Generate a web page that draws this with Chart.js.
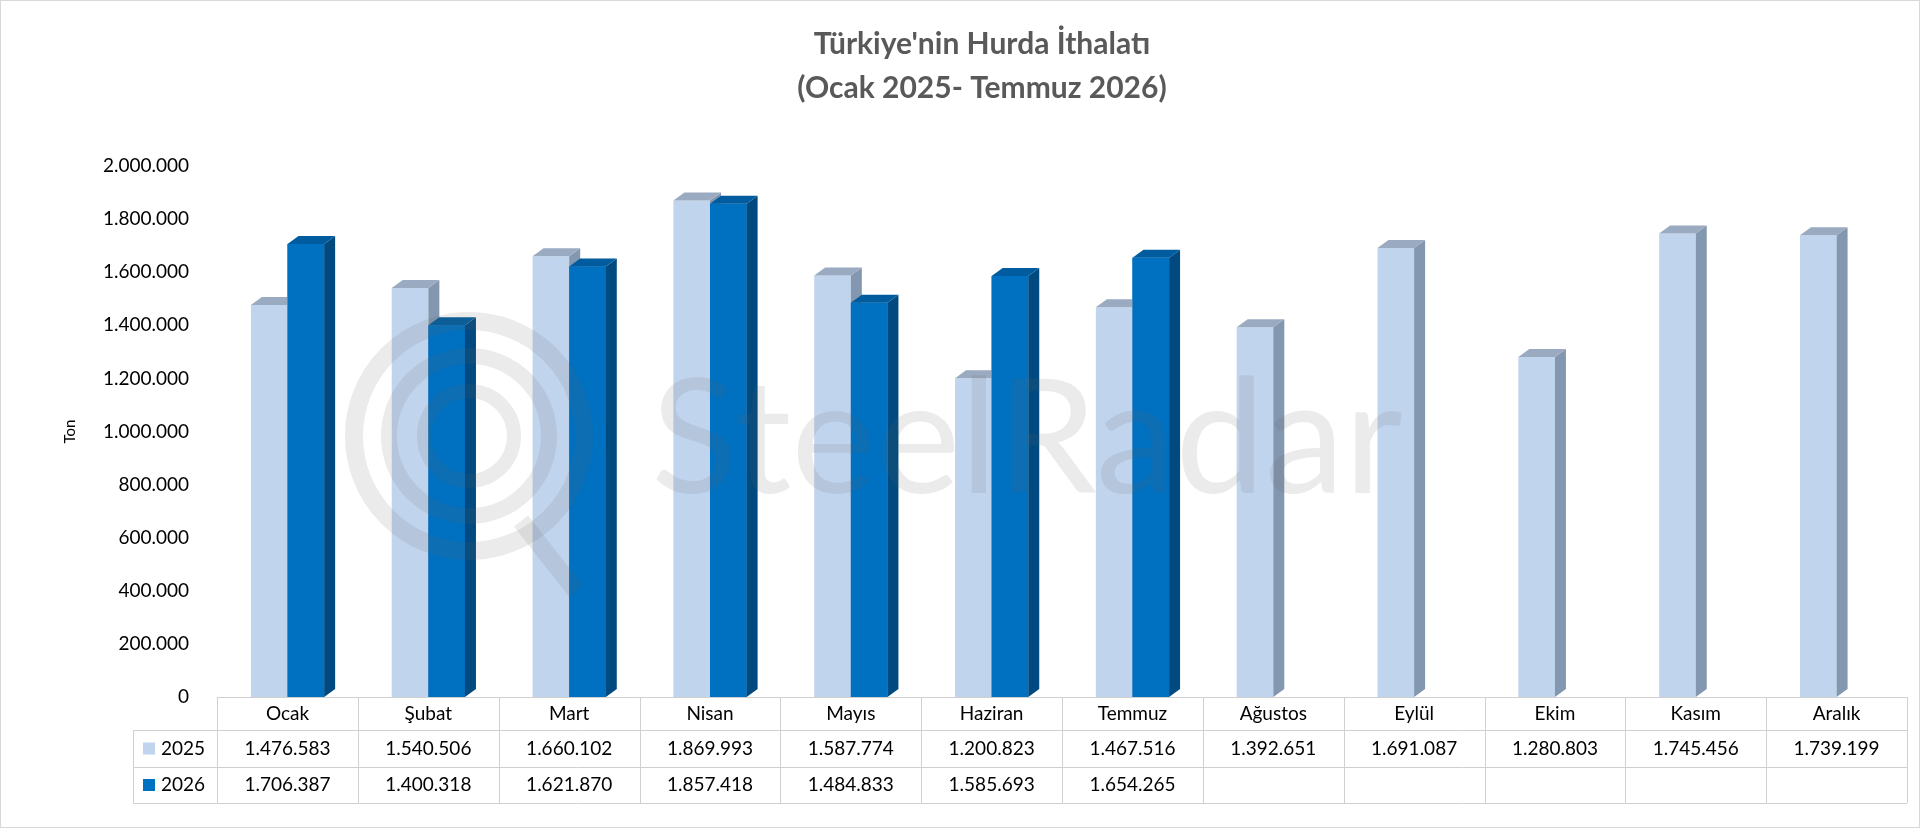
<!DOCTYPE html>
<html><head><meta charset="utf-8">
<script src="https://cdn.jsdelivr.net/npm/chart.js@4"></script>
<style>
html,body{margin:0;background:#fff;}
#wrap{width:1918px;height:826px;border:1px solid #d9d9d9;}
</style></head>
<body><div id="wrap"><canvas id="c" width="1918" height="826"></canvas></div>
<script>
const months = ["Ocak","Şubat","Mart","Nisan","Mayıs","Haziran","Temmuz","Ağustos","Eylül","Ekim","Kasım","Aralık"];
const y2025 = [1476583,1540506,1660102,1869993,1587774,1200823,1467516,1392651,1691087,1280803,1745456,1739199];
const y2026 = [1706387,1400318,1621870,1857418,1484833,1585693,1654265,null,null,null,null,null];
const seriesNames = ["2025","2026"];

const fmt = v => v == null ? "" : v.toLocaleString("de-DE");
const FONT = "Lato, 'Noto Sans', sans-serif";
const DEPTH = 11, RISE = 8;
const faces = [
  {front:"#C0D4EE", side:"#8497B0", top:"#9AAAC0"},
  {front:"#0070C0", side:"#004A80", top:"#005C9E"}
];

// side and top faces; 2026 front is redrawn so it sits over the 2025 side face
const boxes3d = {
  id: "boxes3d",
  afterDatasetsDraw(chart) {
    const c = chart.ctx;
    [0, 1].forEach(idx => {
      const f = faces[idx], vals = chart.data.datasets[idx].data;
      chart.getDatasetMeta(idx).data.forEach((b, i) => {
        if (vals[i] == null) return;
        const l = b.x - b.width/2, r = b.x + b.width/2, t = b.y, bt = b.base;
        c.save();
        if (idx === 1) { c.fillStyle = f.front; c.fillRect(l, t, r-l, bt-t); }
        c.fillStyle = f.side;
        c.beginPath(); c.moveTo(r,t); c.lineTo(r+DEPTH,t-RISE); c.lineTo(r+DEPTH,bt-RISE); c.lineTo(r,bt); c.closePath(); c.fill();
        c.fillStyle = f.top;
        c.beginPath(); c.moveTo(l,t); c.lineTo(l+DEPTH,t-RISE); c.lineTo(r+DEPTH,t-RISE); c.lineTo(r,t); c.closePath(); c.fill();
        c.restore();
      });
    });
  }
};

const table = {
  id: "table",
  afterDraw(chart) {
    const c = chart.ctx, x = chart.scales.x, area = chart.chartArea;
    const step = (x.getPixelForValue(1) - x.getPixelForValue(0));
    const left = area.left, right = x.getPixelForValue(11) + step/2;
    const rows = [area.bottom, area.bottom+33, area.bottom+70, area.bottom+106];
    const labelLeft = 132;
    c.save();
    c.strokeStyle = "#d0d0d0"; c.lineWidth = 1;
    for (let i = 0; i < rows.length; i++) {
      c.beginPath(); c.moveTo(i === 0 ? left : labelLeft, rows[i]+0.5); c.lineTo(right, rows[i]+0.5); c.stroke();
    }
    for (let i = 0; i <= 12; i++) {
      const px = Math.round(left + i*step)+0.5;
      c.beginPath(); c.moveTo(px, rows[0]); c.lineTo(px, rows[3]); c.stroke();
    }
    c.beginPath(); c.moveTo(labelLeft+0.5, rows[1]); c.lineTo(labelLeft+0.5, rows[3]); c.stroke();
    c.fillStyle = "#000"; c.font = "19px " + FONT; c.textAlign = "center"; c.textBaseline = "middle";
    months.forEach((m,i) => c.fillText(m, x.getPixelForValue(i), (rows[0]+rows[1])/2));
    [y2025, y2026].forEach((arr, r) => {
      const cy = (rows[r+1]+rows[r+2])/2;
      arr.forEach((v,i) => c.fillText(fmt(v), x.getPixelForValue(i), cy));
      c.fillStyle = faces[r].front; c.fillRect(labelLeft+10, cy-6, 12, 12);
      c.fillStyle = "#000"; c.textAlign = "left"; c.fillText(seriesNames[r], labelLeft+28, cy);
      c.textAlign = "center";
    });
    c.restore();
  }
};

const watermark = {
  id: "watermark",
  afterDraw(chart) {
    const c = chart.ctx;
    c.save();
    c.globalAlpha = 0.13; c.strokeStyle = "#666"; c.fillStyle = "#666";
    [[115,18],[80,16],[45,14]].forEach(([r,w]) => {
      c.lineWidth = w; c.beginPath(); c.arc(468, 435, r, 0, Math.PI*2); c.stroke();
    });
    c.lineWidth = 18; c.beginPath(); c.moveTo(520,520); c.lineTo(575,590); c.stroke();
    c.font = "160px " + FONT; c.textBaseline = "middle";
    c.fillText("SteelRadar", 650, 440);
    c.restore();
  }
};

new Chart(document.getElementById("c"), {
  type: "bar",
  data: {
    labels: months,
    datasets: [
      {label: seriesNames[0], data: y2025, backgroundColor: faces[0].front, categoryPercentage: 0.52, barPercentage: 1},
      {label: seriesNames[1], data: y2026, backgroundColor: faces[1].front, categoryPercentage: 0.52, barPercentage: 1}
    ]
  },
  options: {
    responsive: false, animation: false,
    layout: {padding: {left: 56, right: 12, top: 0, bottom: 130}},
    plugins: {
      legend: {display: false}, tooltip: {enabled: false},
      title: {display: true, text: ["Türkiye'nin Hurda İthalatı", "(Ocak 2025- Temmuz 2026)"],
        color: "#595959", font: {family: FONT, size: 30, weight: "bold", lineHeight: 1.45}, padding: {top: 22, bottom: 56}}
    },
    scales: {
      x: {grid: {display: false, drawTicks: false}, border: {display: false}, ticks: {display: false}},
      y: {min: 0, max: 2000000, grid: {display: false}, border: {display: false},
        ticks: {stepSize: 200000, color: "#000", font: {family: FONT, size: 19}, padding: 20, callback: v => fmt(v)},
        title: {display: true, text: "Ton", color: "#000", font: {family: FONT, size: 15}}}
    }
  },
  plugins: [boxes3d, table, watermark]
});
</script></body></html>
